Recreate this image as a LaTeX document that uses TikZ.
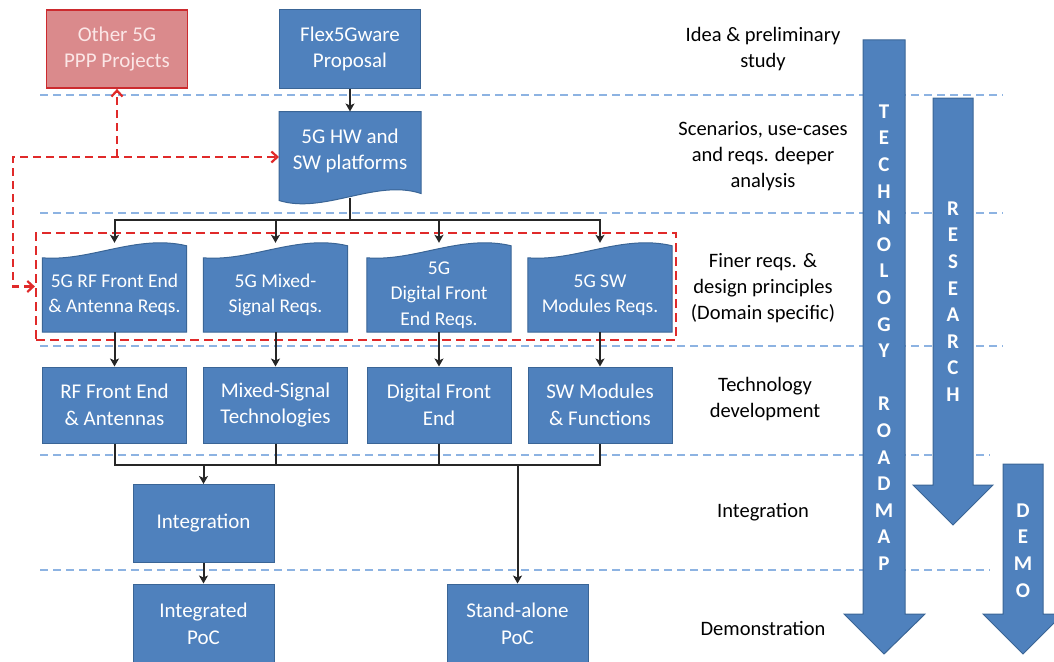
\documentclass[tikz,border=0pt]{standalone}
\usepackage{fontspec}
\setmainfont{Carlito}
\usetikzlibrary{arrows.meta,backgrounds}
\definecolor{boxblue}{HTML}{4F81BD}
\definecolor{boxedge}{HTML}{3A6596}
\definecolor{linkred}{HTML}{E02A2A}
\definecolor{otherfill}{HTML}{DA8A8C}
\definecolor{otheredge}{HTML}{CC2A2E}
\definecolor{othertext}{HTML}{FBE6E6}
\definecolor{phaseline}{HTML}{8DB3E2}
\tikzset{
  box/.style={draw=boxedge, fill=boxblue, line width=1pt, text=white, align=center,
    minimum width=141pt, minimum height=78pt, inner sep=0pt, font=\fontsize{21}{26.5}\selectfont},
  techbox/.style={box, minimum width=144pt, minimum height=76pt},
  reqbox/.style={text=white, align=center, minimum width=144pt, minimum height=74pt,
    inner sep=0pt, font=\fontsize{19.5}{25.5}\selectfont},
  docshape/.style={draw=boxedge, fill=boxblue, line width=1pt},
  otherbox/.style={box, draw=otheredge, fill=otherfill, text=othertext, line width=1.8pt},
  phase/.style={align=center, inner sep=0pt, font=\fontsize{20.5}{26}\selectfont},
  spell/.style={text=white, align=center, inner sep=0pt, anchor=north,
    font=\fontsize{21}{26.6}\selectfont\bfseries},
  bigarrow/.style={draw=boxedge, fill=boxblue, line width=1pt},
  phasesep/.style={draw=phaseline, line width=2pt, dash pattern=on 8pt off 5pt},
  conn/.style={draw=black!85, line width=2pt},
  arr/.style={conn, -{Stealth[length=8pt,width=9pt,inset=2pt]}},
  redlink/.style={draw=linkred, line width=2.2pt, dash pattern=on 8pt off 5pt,
    arrows={-Straight Barb[length=6pt,width=11pt]}},
  grpbox/.style={draw=linkred, line width=2.2pt, dash pattern=on 9pt off 5pt,
    minimum width=640pt, minimum height=107pt, inner sep=0pt}
}

\begin{document}
\begin{tikzpicture}[x=1pt,y=-1pt]
  \clip (0,0) rectangle (1054,661);

  % phase separators
  \draw[phasesep] (40,95) -- (1003,95);
  \draw[phasesep] (40,213) -- (1003,213);
  \draw[phasesep] (40,346) -- (1003,346);
  \draw[phasesep] (40,455) -- (990,455);
  \draw[phasesep] (40,570) -- (990,570);

  % roadmap arrows
  \filldraw[bigarrow] (863,40) -- (905,40) -- (905,614) -- (925,614) -- (884,654) -- (844,614) -- (863,614) -- cycle;
  \filldraw[bigarrow] (933,98) -- (973,98) -- (973,485) -- (993,485) -- (953,525) -- (913,485) -- (933,485) -- cycle;
  \filldraw[bigarrow] (1003,464) -- (1043,464) -- (1043,614) -- (1063,614) -- (1023,654) -- (983,614) -- (1003,614) -- cycle;
  \node[spell] (roadmap) at (884,104.5) {T\\E\\C\\H\\N\\O\\L\\O\\G\\Y\\[26.6pt]R\\O\\A\\D\\M\\A\\P};
  \node[spell] (research) at (953,201.5) {R\\E\\S\\E\\A\\R\\C\\H};
  \node[spell] (demo) at (1023,503.5) {D\\E\\M\\O};

  % phase labels
  \node[phase] (idea) at (763,49.5) {Idea \& preliminary\\study};
  \node[phase] (scen) at (763,156) {Scenarios, use-cases\\and reqs. deeper\\analysis};
  \node[phase] (finer) at (763,288) {Finer reqs. \&\\design principles\\(Domain specific)};
  \node[phase] (techdev) at (765,399) {Technology\\development};
  \node[phase] (integlbl) at (763,512) {Integration};
  \node[phase] (demolbl) at (763,628) {Demonstration};

  % boxes
  \node[otherbox] (other) at (117,49) {Other 5G\\PPP Projects};
  \node[box] (flex) at (350,49) {Flex5Gware\\Proposal};
  \node[box, draw=none, fill=none, minimum height=78pt] (hw) at (350,151) {5G HW and\\SW platforms};

  \node[reqbox] (rq1) at (114.5,295) {5G RF Front End\\\& Antenna Reqs.};
  \node[reqbox] (rq2) at (275.5,295) {5G Mixed-\\Signal Reqs.};
  \node[reqbox] (rq3) at (439,295) {5G\\Digital Front\\End Reqs.};
  \node[reqbox] (rq4) at (600,295) {5G SW\\Modules Reqs.};
  \node[grpbox] (grp) at (356,286.5) {};

  \node[techbox] (tk1) at (114.5,405) {RF Front End\\\& Antennas};
  \node[techbox] (tk2) at (275.5,405) {Mixed-Signal\\Technologies};
  \node[techbox] (tk3) at (439,405) {Digital Front\\End};
  \node[techbox] (tk4) at (600,405) {SW Modules\\\& Functions};

  \node[box] (integ) at (203.5,523.5) {Integration};
  \node[box, minimum height=80pt] (ipoc) at (203.5,624) {Integrated\\PoC};
  \node[box, minimum height=80pt] (alone) at (517.5,624) {Stand-alone\\PoC};

  % document shapes behind their texts
  \begin{scope}[on background layer]
    \filldraw[docshape] (hw.north west) -- (hw.north east) -- ([yshift=-3pt]hw.south east)
      .. controls ([xshift=-45pt,yshift=12pt]hw.south east) and ([xshift=45pt,yshift=-24pt]hw.south west)
      .. ([yshift=-10pt]hw.south west) -- cycle;
    \foreach \n in {rq1,rq2,rq3,rq4}
      \filldraw[docshape] (\n.south west) -- (\n.north west)
        .. controls ([xshift=48pt,yshift=-4pt]\n.north west) and ([xshift=-50pt,yshift=24pt]\n.north east)
        .. ([yshift=12pt]\n.north east) -- (\n.south east) -- cycle;
  \end{scope}

  % connectors
  \coordinate (busA) at (0,220);
  \coordinate (busB) at (0,465);
  \coordinate (rc) at (13,157);
  \draw[arr] (flex.south) -- (hw.north);
  \draw[conn] ([yshift=-7pt]hw.south) -- (hw.south |- busA);
  \foreach \n in {rq1,rq2,rq3,rq4}
    \draw[arr] (hw.south |- busA) -| ([yshift=15pt]\n.north);
  \foreach \i in {1,2,3,4}
    \draw[arr] (rq\i.south) -- (tk\i.north);
  \draw[conn] (tk1.south) |- (busB -| tk4.south) -- (tk4.south);
  \draw[conn] (tk2.south) -- (tk2.south |- busB);
  \draw[conn] (tk3.south) -- (tk3.south |- busB);
  \draw[arr] (integ.north |- busB) -- (integ.north);
  \draw[arr] (alone.north |- busB) -- (alone.north);
  \draw[arr] (integ.south) -- (ipoc.north);

  % links to other projects
  \draw[redlink, arrows={Straight Barb[length=6pt,width=11pt]-Straight Barb[length=6pt,width=11pt]}]
    (grp.west) -| (rc) -- ([yshift=-6pt]hw.west);
  \draw[redlink] (other.south |- rc) -- (other.south);
\end{tikzpicture}
\end{document}
